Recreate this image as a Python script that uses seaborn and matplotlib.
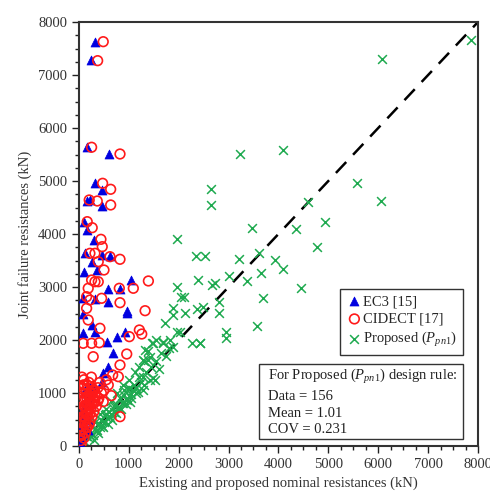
import matplotlib
matplotlib.use('Agg')
import numpy as np
import pandas as pd
import matplotlib.pyplot as plt
import seaborn as sns
from matplotlib.ticker import MultipleLocator
from matplotlib.patches import Rectangle

# %% data (kN)
ec3_x = [322, 235, 167, 603, 322, 456, 155, 221, 456, 100, 167, 302, 121, 255, 456, 623,
         100, 356, 589, 824, 1039, 86, 322, 589, 971, 86, 959, 255, 86, 322, 557, 758,
         925, 689, 589, 488, 456, 221, 121, 221, 80,
         40, 60, 100, 150, 200, 80, 130, 250, 180, 50, 120, 300, 220, 30, 70]
ec3_y = [7629, 7284, 5637, 5510, 4969, 4831, 4629, 4642, 4529, 4227, 4076, 3887, 3642, 3478, 3604, 3585,
         3289, 3321, 2957, 2957, 3132, 2787, 2768, 2723, 2553, 2491, 2504, 2283, 2127, 2157, 1968, 2063,
         2157, 1749, 1496, 1372, 1213, 1119, 1057, 811, 491,
         150, 400, 250, 600, 500, 700, 850, 950, 300, 600, 1000, 1100, 800, 50, 200]

cidect_x = [488, 376, 255, 824, 476, 637, 207, 368, 637, 167, 267, 442, 468, 221, 322, 388,
            623, 824, 503, 255, 322, 388, 187, 810, 1091, 1393, 155, 221, 456, 824, 155, 1327,
            187, 422, 1212, 1260, 1011, 86, 255, 408, 287, 959, 824, 677, 790, 589, 488,
            30, 60, 80, 100, 120, 150, 170, 200, 220, 250, 280, 300, 330, 350, 380, 400,
            50, 90, 130, 180, 240, 260, 320, 140, 70, 200, 300, 160, 110, 40, 20, 450,
            500, 550, 650, 824, 86, 420, 250,
            40, 70, 100, 130, 160, 190, 220, 60, 90, 120, 150, 180, 210, 240, 270, 30,
            110, 140, 170, 200, 230, 260, 290, 350, 380, 60, 100, 20, 50, 80]
cidect_y = [7629, 7271, 5637, 5510, 4957, 4844, 4642, 4623, 4548, 4233, 4119, 3900, 3761, 3636, 3636, 3478,
            3572, 3523, 3321, 3132, 3100, 3100, 2976, 2976, 2976, 3114, 2817, 2755, 2787, 2704, 2598, 2553,
            2378, 2221, 2189, 2113, 2063, 1938, 1938, 1949, 1685, 1736, 1528, 1340, 1308, 1151, 836,
            100, 200, 300, 150, 400, 500, 350, 700, 600, 800, 900, 650, 1000, 750, 1100, 900,
            50, 450, 250, 800, 1000, 550, 850, 650, 550, 400, 1050, 900, 750, 300, 200, 1000,
            1050, 1250, 950, 553, 1151, 1200, 1300,
            450, 650, 550, 750, 600, 950, 450, 850, 1000, 900, 350, 600, 850, 700, 1050, 700,
            1150, 1050, 1150, 1200, 950, 1100, 800, 950, 850, 1300, 1250, 500, 900, 1100]

prop_x = [7860, 6070, 4100, 3236, 5568, 6050, 2647, 2647, 3477, 4342, 4597, 4925, 1964, 4764, 2352, 2533,
          3216, 3612, 3940, 4094, 3652, 3015, 3377, 4456, 3692, 2667, 2734, 2392, 1964, 2050, 2110, 1889,
          2131, 2366, 2486, 2814, 2814, 3572, 2955, 2955, 2265, 2432, 1729, 1883, 1964, 2030, 1688, 1829,
          1889, 1327, 1387, 1427, 1286, 1427, 1528, 1186, 1286, 1025,
          1494, 1695, 2432, 1293, 1494, 1092, 958, 890,
          60, 120, 150, 200, 250, 280, 320, 350, 400, 420, 450, 500, 520, 560, 600, 640,
          680, 700, 750, 780, 820, 860, 900, 940, 980, 1050, 1100, 1150, 1200, 1250, 1350, 1450,
          1550, 1600, 1650, 1750, 1800, 300, 380, 480, 580, 660, 740, 850, 950, 1050, 1150, 1300,
          200, 330, 430, 550, 650, 760, 880, 1000, 1120, 1200, 1300, 1380, 1460, 1550,
          240, 360, 470, 540, 620, 700, 800, 900, 1000]
prop_y = [7661, 7303, 5586, 5510, 4963, 4623, 4850, 4548, 4114, 4095, 4610, 4227, 3906, 3755, 3585, 3585,
          3529, 3648, 3510, 3340, 3270, 3208, 3119, 2981, 2793, 3038, 3076, 3132, 3006, 2817, 2817, 2604,
          2515, 2585, 2629, 2717, 2515, 2264, 2157, 2038, 1949, 1949, 2321, 2472, 2157, 2157, 1968, 2000,
          1874, 1811, 1623, 1685, 1308, 1245, 1245, 1025, 1057, 836,
          1938, 1938, 1938, 1623, 1277, 1057, 868, 805,
          50, 80, 180, 150, 250, 200, 330, 280, 420, 350, 500, 450, 580, 520, 650, 600,
          720, 640, 800, 720, 900, 820, 960, 880, 1080, 980, 1150, 1100, 1300, 1200, 1400, 1500,
          1600, 1450, 1750, 1700, 1850, 120, 250, 350, 420, 500, 620, 700, 800, 900, 1000, 1150,
          300, 450, 600, 700, 850, 1000, 1150, 1250, 1400, 1500, 1600, 1800, 1950, 2000,
          180, 300, 380, 600, 550, 760, 700, 1050, 1100]

line_ends = [0, 8000]
stats_lines = ['For Proposed ($P_{pn1}$) design rule:', 'Data = 156', 'Mean = 1.01', 'COV = 0.231']

# %%
sns.set_theme(style='ticks')
plt.rcParams['font.family'] = ['Liberation Serif', 'DejaVu Serif']
plt.rcParams['mathtext.fontset'] = 'custom'
plt.rcParams['mathtext.rm'] = 'Liberation Serif'
plt.rcParams['mathtext.it'] = 'Liberation Serif:italic'

fig, ax = plt.subplots(figsize=(4.9, 4.96), dpi=100)
fig.subplots_adjust(left=0.161, right=0.9755, top=0.9556, bottom=0.1008)

df_ec3 = pd.DataFrame(dict(x=ec3_x, y=ec3_y))
df_cid = pd.DataFrame(dict(x=cidect_x, y=cidect_y))
df_prop = pd.DataFrame(dict(x=prop_x, y=prop_y))

sns.lineplot(x=line_ends, y=line_ends, color='black', lw=1.8, ax=ax, dashes=False,
             linestyle=(0, (6, 4)), zorder=1)
sns.scatterplot(data=df_ec3, x='x', y='y', marker='^', color='#0000e0', s=42,
                edgecolor='#0000e0', linewidth=0.5, ax=ax, label='EC3 [15]', zorder=3)
sns.scatterplot(data=df_cid, x='x', y='y', marker='o', facecolor='none', edgecolor='#ff1a1a',
                s=48, linewidth=1.2, ax=ax, label='CIDECT [17]', zorder=4)
sns.scatterplot(data=df_prop, x='x', y='y', marker='x', color='#1faa50', s=40,
                linewidth=1.1, ax=ax, label='Proposed ($P_{pn1}$)', zorder=2)

ax.set_xlim(0, 8000)
ax.set_ylim(0, 8000)
ax.xaxis.set_major_locator(MultipleLocator(1000))
ax.yaxis.set_major_locator(MultipleLocator(1000))
ax.xaxis.set_minor_locator(MultipleLocator(250))
ax.yaxis.set_minor_locator(MultipleLocator(250))
ax.tick_params(which='major', direction='out', length=5, width=1, colors='#222222',
               labelsize=10.5, labelcolor='#333333')
ax.tick_params(which='minor', direction='out', length=3, width=1, colors='#222222')
for sp in ax.spines.values():
    sp.set_visible(True)
    sp.set_color('#333333')
    sp.set_linewidth(1.5)

ax.set_xlabel('Existing and proposed nominal resistances (kN)', fontsize=10.5, color='#333333')
ax.set_ylabel('Joint failure resistances (kN)', fontsize=10.5, color='#333333')

leg = ax.legend(loc='upper right', bbox_to_anchor=(0.962, 0.370), borderaxespad=0,
                fancybox=False, edgecolor='#333333', framealpha=1, fontsize=10.5,
                handletextpad=0.0, handlelength=1.2, borderpad=0.4, labelspacing=0.3)
leg.get_frame().set_linewidth(1.0)

ax.add_patch(Rectangle((0.451, 0.0165), 0.511, 0.1765, transform=ax.transAxes,
                       facecolor='white', edgecolor='#333333', lw=1.0, zorder=5))
ypos = [0.165, 0.116, 0.077, 0.038]
for txt, yy in zip(stats_lines, ypos):
    ax.text(0.474, yy, txt, transform=ax.transAxes, fontsize=10.5, va='center',
            ha='left', color='#222222', zorder=6)

fig.savefig('out.png', dpi=100)
